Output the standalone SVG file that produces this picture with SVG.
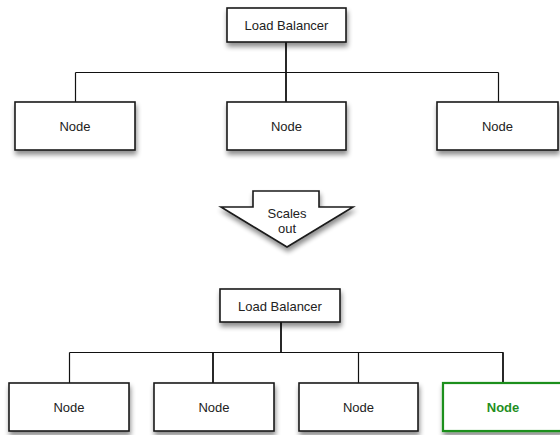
<svg xmlns="http://www.w3.org/2000/svg" width="560" height="435" viewBox="0 0 560 435">
<defs>
<filter id="sh" x="-20%" y="-20%" width="150%" height="170%">
<feGaussianBlur in="SourceAlpha" stdDeviation="2.5"/>
<feOffset dx="1" dy="4" result="b"/>
<feComponentTransfer><feFuncA type="linear" slope="0.45"/></feComponentTransfer>
<feMerge><feMergeNode/><feMergeNode in="SourceGraphic"/></feMerge>
</filter>
</defs>
<style>
.box{fill:#fff;stroke:#1a1a1a;stroke-width:1.6;filter:url(#sh)}
.green{fill:#fff;stroke:#1f8f1f;stroke-width:2.2;filter:url(#sh)}
text{font-family:"Liberation Sans",Arial,sans-serif;font-size:13px;fill:#222;text-anchor:middle;dominant-baseline:central}
.gt{fill:#1f8f1f;font-weight:bold}
.thin{stroke:#111;stroke-width:1.2;fill:none}
.thick{stroke:#111;stroke-width:1.8;fill:none}
</style>
<rect width="560" height="435" fill="#fff"/>
<g id="connectors">
<line class="thin" x1="75.5" y1="72.5" x2="498.5" y2="72.5"/>
<line class="thick" x1="286" y1="42" x2="286" y2="102"/>
<line class="thin" x1="75.5" y1="72.5" x2="75.5" y2="102"/>
<line class="thin" x1="498.5" y1="72.5" x2="498.5" y2="102"/>
<line class="thin" x1="69.5" y1="352.5" x2="503.5" y2="352.5"/>
<line class="thick" x1="281" y1="322" x2="281" y2="352.5"/>
<line class="thin" x1="69.5" y1="352.5" x2="69.5" y2="383"/>
<line class="thick" x1="213" y1="352.5" x2="213" y2="383"/>
<line class="thin" x1="358.5" y1="352.5" x2="358.5" y2="383"/>
<line class="thick" x1="503" y1="352.5" x2="503" y2="383"/>
</g>
<g id="lb1"><rect class="box" x="227" y="8" width="119" height="34"/><text x="286.5" y="25">Load Balancer</text></g>
<g id="n1"><rect class="box" x="15" y="102" width="120" height="48"/><text x="75" y="126">Node</text></g>
<g id="n2"><rect class="box" x="227" y="102" width="119" height="48"/><text x="286.5" y="126">Node</text></g>
<g id="n3"><rect class="box" x="437" y="102" width="121" height="48"/><text x="497.5" y="126">Node</text></g>
<g id="scales"><polygon class="box" points="253,191 319,191 319,207 353,207 287,247 221,207 253,207"/><text x="287" y="213">Scales</text><text x="287" y="228">out</text></g>
<g id="lb2"><rect class="box" x="220" y="289" width="120" height="33"/><text x="280" y="306">Load Balancer</text></g>
<g id="m1"><rect class="box" x="9" y="383" width="120" height="48"/><text x="69" y="407">Node</text></g>
<g id="m2"><rect class="box" x="154" y="383" width="120" height="48"/><text x="214" y="407">Node</text></g>
<g id="m3"><rect class="box" x="299" y="383" width="119" height="48"/><text x="358.5" y="407">Node</text></g>
<g id="m4"><rect class="green" x="443" y="383" width="120" height="48"/><text class="gt" x="503" y="407">Node</text></g>
</svg>
